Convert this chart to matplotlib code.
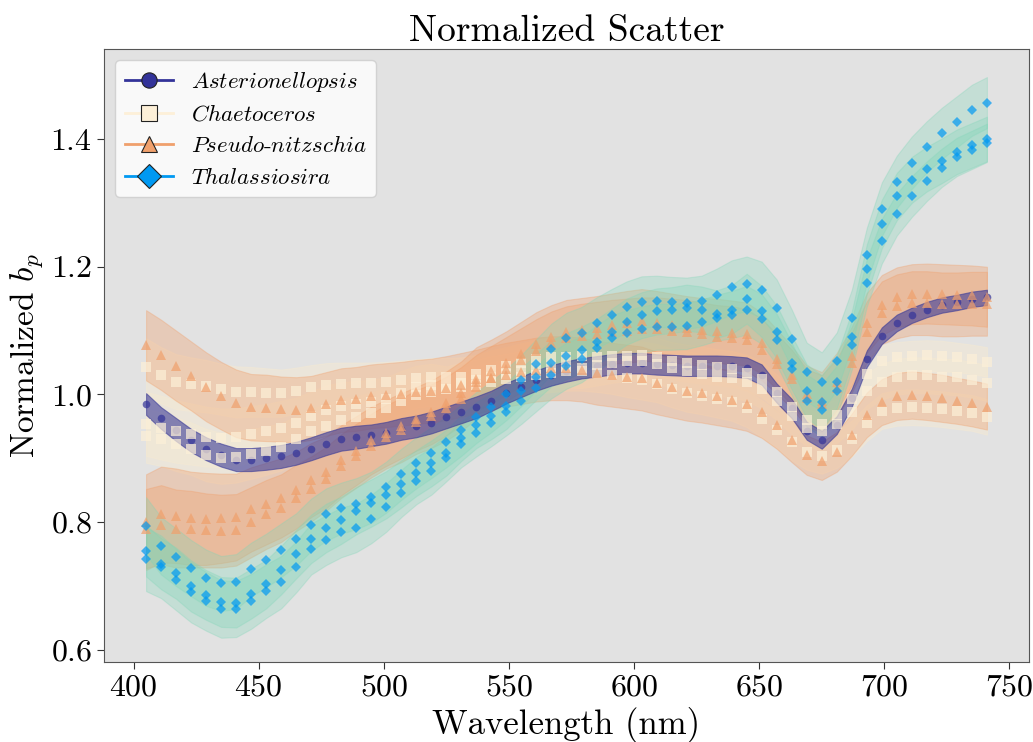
import numpy as np
import matplotlib
matplotlib.use("Agg")
from matplotlib import pyplot as plt
from matplotlib.lines import Line2D

plt.rcParams['font.family'] = 'serif'
plt.rcParams['font.serif'] = ['cmr10']
plt.rcParams['mathtext.fontset'] = 'cm'
plt.rcParams['axes.formatter.use_mathtext'] = True

# wavelength grid of the spectra (nm)
wl = np.arange(405, 742, 6)

# Asterionellopsis
ast_1 = [0.985, 0.963, 0.945, 0.928, 0.915, 0.905, 0.898, 0.898, 0.900, 0.903,
         0.908, 0.915, 0.923, 0.930, 0.933, 0.936, 0.940, 0.946, 0.950, 0.956,
         0.964, 0.972, 0.980, 0.990, 1.002, 1.012, 1.022, 1.030, 1.036, 1.041,
         1.044, 1.047, 1.049, 1.049, 1.047, 1.046, 1.045, 1.045, 1.045, 1.044,
         1.042, 1.031, 1.002, 0.978, 0.943, 0.929, 0.952, 0.995, 1.056, 1.092,
         1.112, 1.124, 1.133, 1.140, 1.144, 1.149, 1.152]
ast_1_sd = [0.017, 0.017, 0.018, 0.018, 0.018, 0.018, 0.018, 0.018, 0.018, 0.018,
            0.018, 0.018, 0.018, 0.018, 0.018, 0.017, 0.017, 0.017, 0.017, 0.017,
            0.017, 0.017, 0.017, 0.016, 0.016, 0.016, 0.016, 0.016, 0.016, 0.016,
            0.016, 0.016, 0.016, 0.016, 0.016, 0.016, 0.016, 0.016, 0.016, 0.016,
            0.016, 0.016, 0.015, 0.015, 0.014, 0.014, 0.014, 0.014, 0.013, 0.013,
            0.013, 0.012, 0.012, 0.012, 0.012, 0.012, 0.012]

# Chaetoceros
cha_1 = [1.043, 1.030, 1.020, 1.016, 1.013, 1.008, 1.004, 1.004, 1.003, 1.002,
         1.006, 1.011, 1.015, 1.017, 1.018, 1.018, 1.020, 1.022, 1.025, 1.027,
         1.027, 1.028, 1.032, 1.039, 1.044, 1.050, 1.055, 1.058, 1.058, 1.060,
         1.059, 1.060, 1.060, 1.062, 1.059, 1.053, 1.049, 1.046, 1.043, 1.040,
         1.034, 1.024, 1.004, 0.980, 0.960, 0.954, 0.968, 0.993, 1.032, 1.052,
         1.058, 1.060, 1.061, 1.060, 1.058, 1.055, 1.051]
cha_2 = [0.954, 0.948, 0.942, 0.938, 0.934, 0.932, 0.933, 0.938, 0.942, 0.948,
         0.955, 0.966, 0.976, 0.982, 0.985, 0.988, 0.993, 1.003, 1.012, 1.015,
         1.012, 1.018, 1.023, 1.028, 1.032, 1.036, 1.040, 1.043, 1.043, 1.042,
         1.046, 1.050, 1.052, 1.052, 1.048, 1.041, 1.037, 1.032, 1.028, 1.025,
         1.020, 1.008, 0.990, 0.967, 0.948, 0.942, 0.953, 0.973, 1.005, 1.020,
         1.028, 1.030, 1.030, 1.028, 1.027, 1.023, 1.018]
cha_3 = [0.935, 0.930, 0.922, 0.915, 0.905, 0.900, 0.902, 0.907, 0.912, 0.918,
         0.930, 0.942, 0.951, 0.960, 0.965, 0.971, 0.979, 0.990, 0.999, 1.004,
         1.008, 1.012, 1.015, 1.020, 1.024, 1.028, 1.031, 1.034, 1.036, 1.036,
         1.034, 1.031, 1.026, 1.022, 1.017, 1.009, 1.002, 0.998, 0.993, 0.988,
         0.978, 0.962, 0.945, 0.925, 0.910, 0.904, 0.913, 0.931, 0.955, 0.974,
         0.979, 0.980, 0.979, 0.977, 0.974, 0.971, 0.965]
cha_1_sd = [0.045, 0.044, 0.043, 0.042, 0.041, 0.040, 0.040, 0.039, 0.038, 0.037,
            0.036, 0.035, 0.034, 0.033, 0.032, 0.032, 0.031, 0.031, 0.030, 0.030,
            0.030, 0.030, 0.030, 0.030, 0.030, 0.030, 0.030, 0.030, 0.030, 0.030,
            0.030, 0.030, 0.030, 0.030, 0.030, 0.029, 0.029, 0.029, 0.028, 0.028,
            0.028, 0.028, 0.027, 0.027, 0.027, 0.027, 0.026, 0.026, 0.025, 0.025,
            0.024, 0.024, 0.024, 0.024, 0.023, 0.023, 0.023]
cha_2_sd = [0.050, 0.050, 0.049, 0.048, 0.047, 0.046, 0.045, 0.044, 0.043, 0.042,
            0.040, 0.039, 0.038, 0.037, 0.036, 0.035, 0.034, 0.034, 0.033, 0.033,
            0.032, 0.032, 0.032, 0.032, 0.032, 0.032, 0.032, 0.032, 0.032, 0.032,
            0.032, 0.032, 0.031, 0.031, 0.031, 0.031, 0.031, 0.031, 0.030, 0.030,
            0.030, 0.030, 0.030, 0.030, 0.029, 0.029, 0.029, 0.029, 0.028, 0.028,
            0.028, 0.028, 0.028, 0.028, 0.028, 0.028, 0.028]
cha_3_sd = [0.042, 0.042, 0.042, 0.041, 0.041, 0.040, 0.040, 0.039, 0.038, 0.037,
            0.036, 0.035, 0.034, 0.033, 0.032, 0.032, 0.031, 0.031, 0.030, 0.030,
            0.030, 0.030, 0.030, 0.030, 0.030, 0.030, 0.030, 0.030, 0.030, 0.030,
            0.030, 0.030, 0.030, 0.030, 0.029, 0.029, 0.029, 0.029, 0.029, 0.029,
            0.029, 0.029, 0.029, 0.028, 0.028, 0.028, 0.028, 0.028, 0.028, 0.028,
            0.028, 0.028, 0.028, 0.028, 0.028, 0.028, 0.028]

# Pseudo-nitzschia
pse_1 = [1.077, 1.062, 1.045, 1.029, 1.012, 0.998, 0.986, 0.980, 0.979, 0.977,
         0.976, 0.979, 0.985, 0.991, 0.993, 0.997, 0.999, 1.001, 1.004, 1.006,
         1.010, 1.015, 1.020, 1.026, 1.031, 1.035, 1.039, 1.041, 1.041, 1.039,
         1.034, 1.031, 1.028, 1.025, 1.018, 1.012, 1.006, 1.002, 0.997, 0.992,
         0.985, 0.972, 0.952, 0.928, 0.905, 0.896, 0.910, 0.937, 0.968, 0.988,
         0.997, 0.999, 0.997, 0.994, 0.990, 0.986, 0.981]
pse_2 = [0.800, 0.812, 0.810, 0.806, 0.805, 0.806, 0.808, 0.820, 0.829, 0.838,
         0.850, 0.866, 0.878, 0.897, 0.912, 0.928, 0.940, 0.951, 0.962, 0.972,
         0.986, 1.002, 1.024, 1.036, 1.049, 1.064, 1.079, 1.090, 1.098, 1.101,
         1.104, 1.108, 1.112, 1.115, 1.112, 1.108, 1.104, 1.101, 1.100, 1.097,
         1.095, 1.080, 1.055, 1.030, 1.000, 0.990, 1.020, 1.060, 1.112, 1.140,
         1.152, 1.157, 1.158, 1.157, 1.156, 1.155, 1.153]
pse_3 = [0.790, 0.796, 0.790, 0.789, 0.787, 0.786, 0.788, 0.800, 0.812, 0.822,
         0.838, 0.852, 0.868, 0.888, 0.904, 0.920, 0.934, 0.944, 0.957, 0.966,
         0.978, 0.993, 1.012, 1.026, 1.040, 1.054, 1.068, 1.080, 1.088, 1.092,
         1.095, 1.098, 1.100, 1.102, 1.102, 1.100, 1.098, 1.094, 1.090, 1.088,
         1.085, 1.070, 1.048, 1.024, 0.995, 0.985, 1.010, 1.050, 1.098, 1.128,
         1.138, 1.143, 1.143, 1.141, 1.141, 1.142, 1.142]
pse_1_sd = [0.055, 0.055, 0.055, 0.054, 0.054, 0.053, 0.053, 0.052, 0.052, 0.051,
            0.051, 0.050, 0.050, 0.050, 0.050, 0.050, 0.050, 0.050, 0.050, 0.050,
            0.050, 0.050, 0.050, 0.050, 0.050, 0.050, 0.050, 0.050, 0.050, 0.050,
            0.050, 0.050, 0.050, 0.050, 0.049, 0.048, 0.047, 0.046, 0.045, 0.044,
            0.042, 0.040, 0.037, 0.034, 0.031, 0.030, 0.031, 0.033, 0.035, 0.036,
            0.037, 0.037, 0.037, 0.037, 0.036, 0.036, 0.036]
pse_2_sd = [0.075, 0.075, 0.074, 0.073, 0.072, 0.070, 0.068, 0.066, 0.064, 0.062,
            0.060, 0.058, 0.056, 0.055, 0.054, 0.053, 0.052, 0.051, 0.050, 0.050,
            0.050, 0.050, 0.050, 0.050, 0.050, 0.050, 0.050, 0.050, 0.050, 0.050,
            0.050, 0.050, 0.050, 0.050, 0.050, 0.050, 0.050, 0.050, 0.050, 0.050,
            0.049, 0.048, 0.047, 0.046, 0.045, 0.045, 0.045, 0.046, 0.047, 0.047,
            0.047, 0.047, 0.047, 0.047, 0.047, 0.047, 0.047]
pse_3_sd = [0.062, 0.062, 0.061, 0.060, 0.058, 0.057, 0.056, 0.055, 0.054, 0.053,
            0.052, 0.051, 0.050, 0.050, 0.050, 0.050, 0.050, 0.050, 0.050, 0.050,
            0.050, 0.050, 0.050, 0.050, 0.050, 0.050, 0.050, 0.050, 0.050, 0.050,
            0.050, 0.050, 0.050, 0.050, 0.050, 0.050, 0.050, 0.050, 0.050, 0.050,
            0.049, 0.048, 0.047, 0.046, 0.045, 0.045, 0.046, 0.047, 0.048, 0.049,
            0.050, 0.050, 0.050, 0.050, 0.050, 0.050, 0.050]

# Thalassiosira
tha_1 = [0.794, 0.763, 0.745, 0.728, 0.713, 0.704, 0.707, 0.726, 0.740, 0.756,
         0.773, 0.796, 0.812, 0.822, 0.829, 0.839, 0.855, 0.875, 0.893, 0.909,
         0.926, 0.944, 0.964, 0.981, 1.000, 1.022, 1.047, 1.071, 1.088, 1.097,
         1.112, 1.125, 1.137, 1.145, 1.146, 1.144, 1.143, 1.146, 1.156, 1.168,
         1.173, 1.164, 1.135, 1.087, 1.035, 1.020, 1.052, 1.120, 1.218, 1.290,
         1.333, 1.363, 1.388, 1.409, 1.427, 1.445, 1.457]
tha_2 = [0.755, 0.735, 0.720, 0.700, 0.686, 0.675, 0.674, 0.688, 0.703, 0.725,
         0.750, 0.774, 0.791, 0.803, 0.818, 0.830, 0.843, 0.860, 0.877, 0.892,
         0.909, 0.932, 0.952, 0.966, 0.982, 1.005, 1.028, 1.049, 1.060, 1.070,
         1.082, 1.098, 1.114, 1.124, 1.130, 1.132, 1.136, 1.133, 1.126, 1.133,
         1.150, 1.130, 1.098, 1.050, 1.005, 0.988, 1.020, 1.090, 1.196, 1.267,
         1.310, 1.336, 1.353, 1.366, 1.380, 1.390, 1.400]
tha_3 = [0.742, 0.730, 0.710, 0.690, 0.676, 0.664, 0.664, 0.676, 0.692, 0.706,
         0.730, 0.758, 0.772, 0.784, 0.791, 0.805, 0.823, 0.845, 0.865, 0.880,
         0.900, 0.922, 0.939, 0.955, 0.972, 0.990, 1.010, 1.030, 1.045, 1.055,
         1.072, 1.088, 1.096, 1.102, 1.106, 1.106, 1.107, 1.113, 1.120, 1.125,
         1.132, 1.118, 1.086, 1.040, 0.990, 0.975, 1.005, 1.078, 1.175, 1.240,
         1.282, 1.310, 1.334, 1.355, 1.372, 1.383, 1.394]
tha_1_sd = [0.045, 0.045, 0.045, 0.044, 0.044, 0.043, 0.043, 0.042, 0.042, 0.042,
            0.041, 0.041, 0.041, 0.040, 0.040, 0.040, 0.040, 0.040, 0.040, 0.040,
            0.040, 0.040, 0.040, 0.040, 0.040, 0.040, 0.040, 0.040, 0.040, 0.040,
            0.040, 0.040, 0.040, 0.040, 0.040, 0.040, 0.040, 0.040, 0.041, 0.042,
            0.043, 0.044, 0.045, 0.046, 0.046, 0.046, 0.045, 0.044, 0.043, 0.042,
            0.041, 0.041, 0.040, 0.040, 0.040, 0.040, 0.040]
tha_2_sd = [0.040, 0.040, 0.040, 0.040, 0.039, 0.039, 0.039, 0.039, 0.038, 0.038,
            0.038, 0.038, 0.038, 0.037, 0.037, 0.037, 0.037, 0.037, 0.036, 0.036,
            0.036, 0.036, 0.036, 0.036, 0.036, 0.036, 0.036, 0.036, 0.036, 0.036,
            0.036, 0.036, 0.036, 0.036, 0.036, 0.036, 0.036, 0.036, 0.037, 0.038,
            0.039, 0.040, 0.041, 0.042, 0.042, 0.042, 0.041, 0.040, 0.039, 0.038,
            0.037, 0.036, 0.035, 0.035, 0.035, 0.035, 0.035]
tha_3_sd = [0.050, 0.049, 0.048, 0.047, 0.046, 0.045, 0.044, 0.043, 0.042, 0.041,
            0.040, 0.040, 0.039, 0.039, 0.038, 0.038, 0.038, 0.037, 0.037, 0.037,
            0.036, 0.036, 0.036, 0.036, 0.036, 0.036, 0.036, 0.036, 0.036, 0.036,
            0.036, 0.036, 0.036, 0.036, 0.036, 0.036, 0.036, 0.036, 0.036, 0.037,
            0.038, 0.039, 0.040, 0.041, 0.041, 0.041, 0.040, 0.039, 0.037, 0.035,
            0.033, 0.032, 0.031, 0.030, 0.030, 0.030, 0.030]

species = ['Asterionellopsis', 'Chaetoceros', 'Pseudo-nitzschia', 'Thalassiosira']
labels = [r'$\mathit{Asterionellopsis}$', r'$\mathit{Chaetoceros}$',
          r'$\mathit{Pseudo}$-$\mathit{nitzschia}$', r'$\mathit{Thalassiosira}$']
curves = [[(ast_1, ast_1_sd)],
          [(cha_1, cha_1_sd), (cha_2, cha_2_sd), (cha_3, cha_3_sd)],
          [(pse_1, pse_1_sd), (pse_2, pse_2_sd), (pse_3, pse_3_sd)],
          [(tha_1, tha_1_sd), (tha_2, tha_2_sd), (tha_3, tha_3_sd)]]

colors = ['#333399', '#fdf0d8', '#f0a06c', '#0099f2']
band_colors = ['#3a3a98', '#f6ead2', '#f0a06c', '#7fd6b8']
band_alpha = [0.6, 0.45, 0.35, 0.3]
band_z = [2.5, 1.2, 1.4, 1.6]
markers = ['o', 's', '^', 'D']
msizes = [5.5, 6.5, 6.5, 5]

fig = plt.figure(figsize=(10.33, 7.42), dpi=100)
ax = fig.add_axes([0.1007, 0.1078, 0.8954, 0.8262])
ax.set_facecolor('#e2e2e2')

for i in range(len(species)):
    for mean, sd in curves[i]:
        mean = np.array(mean)
        sd = np.array(sd)
        ax.fill_between(wl, mean - sd, mean + sd, color=band_colors[i],
                        alpha=band_alpha[i], linewidth=0.8, zorder=band_z[i])
        ax.plot(wl, mean, linestyle='none', marker=markers[i], ms=msizes[i],
                color=colors[i], alpha=0.7, markeredgewidth=0, zorder=3)

handles = []
for i in range(len(species)):
    handles.append(Line2D([0], [0], color=colors[i], lw=2, marker=markers[i],
                          ms=11 if markers[i] != 'D' else 12,
                          markerfacecolor=colors[i], markeredgecolor='#222222',
                          markeredgewidth=0.8))
leg = ax.legend(handles, labels, loc='upper left', fontsize=16.5, framealpha=0.8,
                facecolor='white', edgecolor='#cccccc', handlelength=2.1,
                borderpad=0.4, labelspacing=0.45)
leg.set_zorder(5)

ax.set_xlim(388.2, 757.8)
ax.set_ylim(0.581, 1.541)
ax.set_xticks([400, 450, 500, 550, 600, 650, 700, 750])
ax.set_yticks([0.6, 0.8, 1.0, 1.2, 1.4])
ax.tick_params(labelsize=23, length=5, color='#333333')
for s in ax.spines.values():
    s.set_color('#555555')

ax.set_title('Normalized Scatter', fontsize=27)
ax.set_xlabel('Wavelength (nm)', fontsize=25)
ax.set_ylabel(r'Normalized $b_p$', fontsize=24)

fig.savefig('out.png', dpi=100)
